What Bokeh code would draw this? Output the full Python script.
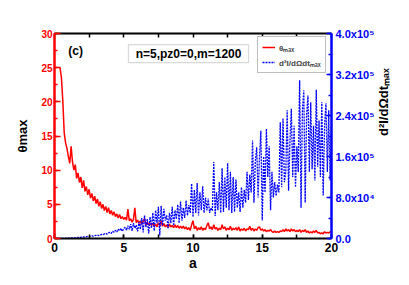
import math
import numpy as np
from bokeh.plotting import figure
from bokeh.models import (Range1d, LinearAxis, SingleIntervalTicker, CustomJSTickFormatter,
                          Legend, LegendItem, Label, BoxAnnotation)
from bokeh.embed import file_html
from bokeh.resources import INLINE

FONT = "Liberation Sans"

# x grid (step 0.1)
a_red = np.round(np.arange(4, 201) * 0.1, 1)    # 0.4 .. 20.0
a_blue = np.round(np.arange(1, 201) * 0.1, 1)   # 0.1 .. 20.0

# theta_max (left axis)
theta_max = [
    25.0, 23.5, 20.2, 15.5, 14.0, 13.2, 12.0,
    11.0, 13.5, 11.2, 10.0, 10.8, 8.8, 9.6, 8.2, 9.0, 7.4,
    8.5, 6.9, 7.6, 6.4, 7.2, 5.9, 6.6, 5.5, 6.2, 5.1,
    5.8, 4.7, 5.4, 4.4, 5.0, 4.1, 4.7, 3.8, 4.5, 3.6,
    4.1, 3.4, 3.9, 3.2, 3.6, 3.0, 3.5, 2.9, 3.2, 2.8,
    3.1, 2.7, 4.3, 2.6, 2.9, 2.4, 2.8, 4.5, 2.3, 2.7,
    2.2, 2.6, 2.1, 2.5, 2.9, 2.0, 2.4, 2.0, 2.3, 1.9,
    2.2, 1.8, 2.1, 1.7, 2.3, 1.9, 2.6, 1.8, 2.2, 1.7,
    2.0, 1.6, 2.1, 1.7, 1.9, 1.6, 2.0, 1.6, 1.9, 1.5,
    1.8, 1.5, 1.8, 1.4, 1.7, 1.3, 1.6, 1.2, 2.0, 2.6,
    1.4, 1.8, 1.2, 1.6, 1.3, 1.7, 1.2, 1.5, 1.3, 1.9,
    2.3, 1.4, 1.7, 1.3, 2.0, 1.4, 1.6, 1.2, 1.5, 1.3,
    2.0, 1.4, 1.7, 1.2, 1.5, 1.3, 1.8, 1.2, 1.5, 1.3,
    1.6, 1.2, 1.7, 1.1, 1.4, 1.2, 1.5, 1.1, 1.4, 1.3,
    1.8, 1.2, 1.5, 1.1, 1.4, 1.2, 1.6, 1.7, 1.2, 1.4,
    1.1, 1.3, 1.0, 1.2, 1.1, 1.3, 1.0, 0.9, 1.1, 0.9,
    1.0, 0.9, 1.1, 1.0, 1.3, 1.0, 1.4, 1.1, 1.3, 1.0,
    1.4, 1.1, 1.3, 1.0, 1.2, 1.0, 1.3, 0.9, 1.2, 1.0,
    1.3, 0.9, 1.1, 0.8, 1.0, 0.8, 1.1, 0.9, 1.2, 0.8,
    0.9, 0.7, 0.8, 0.7, 1.0, 0.8, 0.9, 0.8, 1.0, 0.9,
]

# d2I/dOmega dt max (right axis), in units of 1e5
intensity_e5 = [
    0, 0, 0, 0, 0, 0.002, 0.003, 0.004, 0.005, 0.006,
    0.008, 0.01, 0.012, 0.015, 0.014, 0.018, 0.02, 0.019, 0.024, 0.027,
    0.03, 0.028, 0.035, 0.04, 0.037, 0.045, 0.05, 0.046, 0.055, 0.06,
    0.065, 0.058, 0.07, 0.08, 0.072, 0.09, 0.1, 0.085, 0.11, 0.12,
    0.1, 0.14, 0.12, 0.16, 0.13, 0.18, 0.15, 0.2, 0.14, 0.19,
    0.22, 0.16, 0.25, 0.18, 0.28, 0.15, 0.3, 0.2, 0.26, 0.14,
    0.32, 0.18, 0.4, 0.12, 0.45, 0.22, 0.38, 0.1, 0.42, 0.2,
    0.5, 0.15, 0.55, 0.3, 0.62, 0.06, 0.64, 0.25, 0.58, 0.35,
    0.45, 0.2, 0.5, 0.3, 0.62, 0.25, 0.55, 0.38, 0.66, 0.3,
    0.72, 0.35, 0.6, 0.4, 0.74, 0.45, 0.65, 0.5, 1.07, 0.42,
    0.95, 0.5, 1.08, 0.45, 0.9, 0.55, 1.02, 0.5, 0.8, 0.55,
    0.78, 0.5, 0.6, 0.54, 1.49, 0.44, 0.9, 0.55, 1.1, 0.5,
    1.37, 0.52, 1.2, 0.6, 1.47, 0.55, 1.3, 0.5, 1.2, 0.52,
    1.15, 0.6, 0.9, 0.52, 1.0, 0.6, 0.95, 0.7, 1.3, 0.75,
    1.25, 0.9, 1.91, 0.7, 1.5, 1.78, 0.8, 1.6, 2.1, 0.35,
    1.6, 0.9, 2.14, 1.2, 1.8, 0.55, 1.3, 0.8, 1.1, 0.83,
    1.05, 0.9, 2.27, 1.0, 2.34, 1.1, 1.3, 2.5, 0.93, 1.9,
    2.53, 1.2, 2.2, 1.0, 1.8, 1.3, 3.09, 0.6, 2.5, 2.89,
    0.7, 2.4, 2.79, 1.3, 2.66, 1.35, 2.2, 1.13, 2.9, 1.4,
    2.3, 1.2, 2.66, 0.84, 2.2, 2.64, 1.3, 2.5, 1.13, 2.2,
]
intensity = [v * 1e5 for v in intensity_e5]

x_range = (0, 20)
left_range = (0, 30)
right_range = (0, 4e5)

RED = "#ff0000"
BLUE = "#0000ff"

p = figure(width=405, height=280, output_backend="svg", toolbar_location=None,
           x_range=Range1d(*x_range), y_range=Range1d(*left_range),
           min_border_left=54, min_border_right=74, min_border_top=33, min_border_bottom=42)
p.extra_y_ranges = {"r": Range1d(*right_range)}
p.xgrid.visible = False
p.ygrid.visible = False
p.outline_line_color = None
p.background_fill_color = "white"

r_red = p.line(a_red, theta_max, line_color=RED, line_width=1.5)
r_blue = p.line(a_blue, intensity, line_color=BLUE, line_width=1.3, line_dash="2 1",
                y_range_name="r")


def style(ax, color, size):
    ax.axis_line_color = color
    ax.major_tick_line_color = color
    ax.minor_tick_line_color = color
    ax.major_label_text_color = color
    ax.axis_label_text_color = "black"
    ax.major_label_text_font = FONT
    ax.major_label_text_font_style = "bold"
    ax.major_label_text_font_size = size
    ax.axis_label_text_font = FONT
    ax.axis_label_text_font_style = "bold"
    ax.major_tick_out = 0
    ax.minor_tick_out = 0


# bottom axis
xa = p.xaxis[0]
xa.ticker = SingleIntervalTicker(interval=5, num_minor_ticks=2)
style(xa, "black", "12px")
xa.axis_line_width = 2
xa.major_tick_in = 4
xa.minor_tick_in = 4
xa.major_tick_line_width = 1.5
xa.minor_tick_line_width = 1.5
xa.major_label_standoff = 4
xa.axis_label = "a"
xa.axis_label_text_font_size = "14px"
xa.axis_label_standoff = 0

# left axis
ya = p.yaxis[0]
ya.ticker = SingleIntervalTicker(interval=5, num_minor_ticks=2)
style(ya, RED, "10px")
ya.axis_line_width = 2.5
ya.major_tick_in = 6
ya.minor_tick_in = 3
ya.major_tick_line_width = 1.5
ya.minor_tick_line_width = 1.5
ya.major_label_standoff = 2
ya.axis_label = "θmax"
ya.axis_label_text_font_size = "13px"
ya.axis_label_standoff = 8

# right axis
sup = "⁰¹²³⁴⁵⁶⁷⁸⁹"
fmt = CustomJSTickFormatter(code="""
    if (Math.abs(tick) < 1e-9) { return "0.0"; }
    const sup = "%s";
    const e = Math.floor(Math.log10(tick) + 1e-9);
    const m = tick / Math.pow(10, e);
    return m.toFixed(1) + "x10" + sup[e];
""" % sup)
ra = LinearAxis(y_range_name="r", ticker=SingleIntervalTicker(interval=80000, num_minor_ticks=2),
                formatter=fmt)
style(ra, BLUE, "11px")
ra.axis_line_width = 2.5
ra.major_tick_in = 5
ra.minor_tick_in = 3
ra.major_tick_line_width = 1.5
ra.minor_tick_line_width = 1.5
ra.major_label_standoff = 4
ra.axis_label = "d²I/dΩdtₘₐₓ"
ra.axis_label_text_font_size = "13px"
ra.axis_label_standoff = 6
if "axis_label_orientation" in ra.properties():
    ra.axis_label_orientation = math.pi / 2
p.add_layout(ra, "right")

# top axis (ticks only)
ta = LinearAxis(ticker=SingleIntervalTicker(interval=2.5, num_minor_ticks=0),
                formatter=CustomJSTickFormatter(code="return '';"))
ta.axis_line_color = "black"
ta.axis_line_width = 2
ta.major_tick_line_color = "black"
ta.major_tick_line_width = 1.5
ta.major_tick_in = 4
ta.major_tick_out = 0
ta.minor_tick_line_color = None
ta.major_label_text_font_size = "1px"
ta.major_label_standoff = 0
p.add_layout(ta, "above")

# panel label
p.add_layout(Label(x=1.0, y=28.5, text="(c)", text_font=FONT, text_font_style="bold",
                   text_font_size="12px", text_align="left", text_baseline="top",
                   text_color="black"))

# parameter box
p.add_layout(BoxAnnotation(left=5.34, right=14.01, top=28.37, bottom=25.73,
                           fill_color="white", fill_alpha=1.0,
                           line_color="#808080", line_width=1.2))
p.add_layout(Label(x=9.68, y=27.05, text="n=5,pz0=0,m=1200", text_font=FONT,
                   text_font_style="bold", text_font_size="12px",
                   text_align="center", text_baseline="middle", text_color="black"))

legend = Legend(items=[LegendItem(label="θₘₐₓ", renderers=[r_red]),
                       LegendItem(label="d²I/dΩdtₘₐₓ", renderers=[r_blue])],
                location=(203, 165), label_text_font=FONT, label_text_font_style="bold",
                label_text_font_size="8px", glyph_width=13, glyph_height=12,
                label_height=12, spacing=3, padding=4, margin=0, label_standoff=4,
                border_line_color="#808080", border_line_width=1,
                background_fill_color="white", background_fill_alpha=1.0)
p.add_layout(legend)

open("out.html", "w").write(file_html(p, INLINE))
